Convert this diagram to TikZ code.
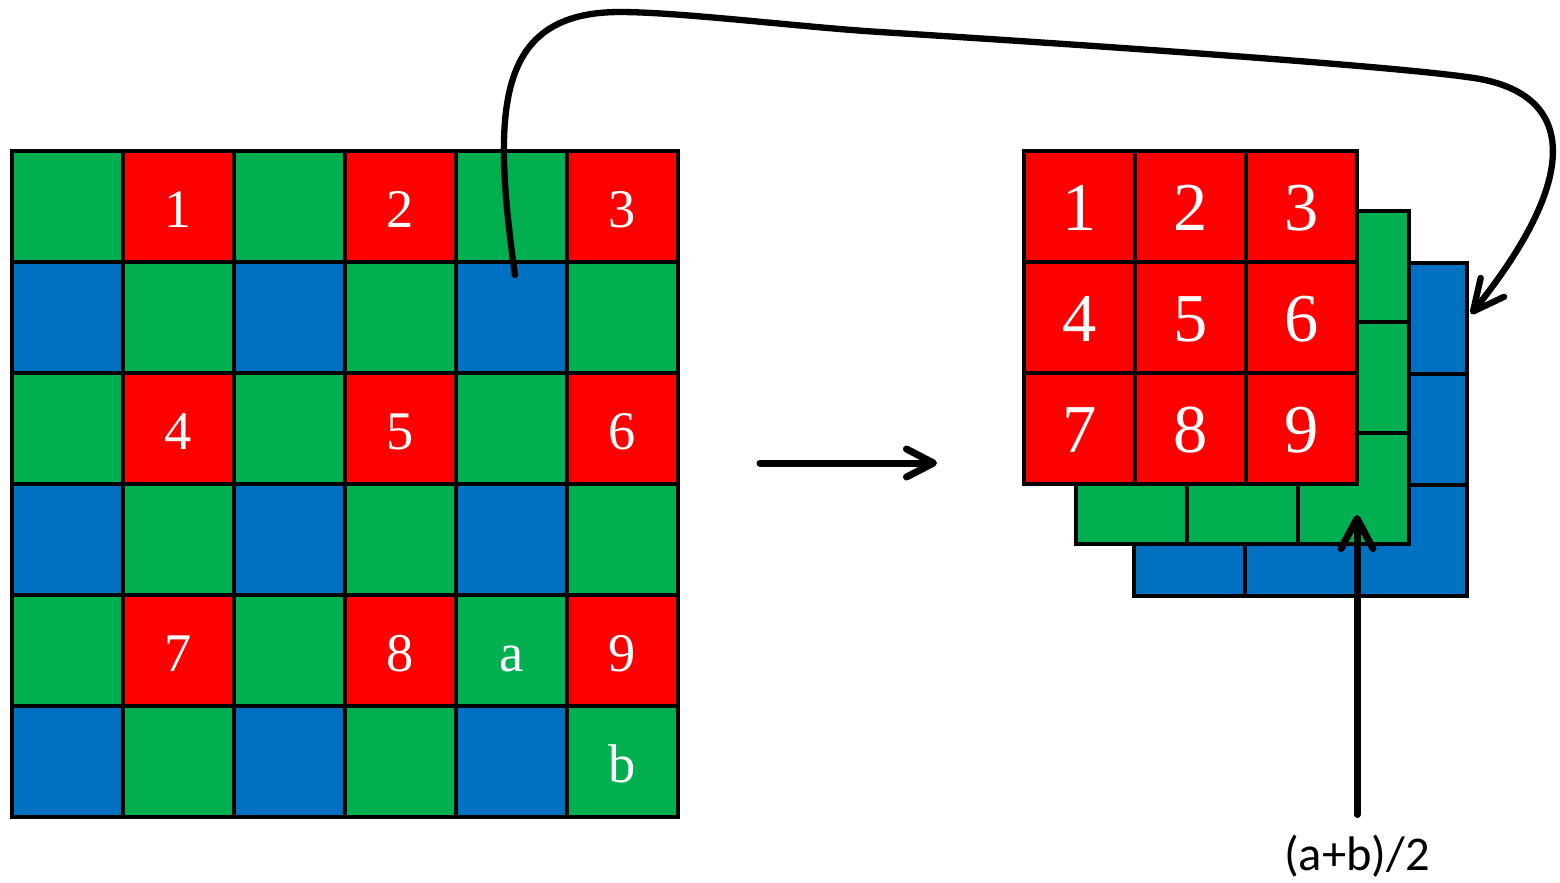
\documentclass[tikz,border=0pt]{standalone}
\usepackage{fontspec}
\setmainfont{Liberation Serif}
\newfontfamily\calibri{Carlito}
\usetikzlibrary{arrows.meta,calc}

\definecolor{cellc0}{HTML}{00B050}
\definecolor{cellc1}{HTML}{FF0000}
\definecolor{cellc2}{HTML}{0070C0}
\definecolor{cellc3}{HTML}{00B050}

\tikzset{
  cell/.style={draw,line width=1.1pt,minimum size=1.11cm,inner sep=0pt,outer sep=0pt},
  lbl/.style={text=white,text height=0.68em,text depth=0pt,yshift=-0.9mm,font=\fontsize{15.5}{18}\selectfont},
  biglbl/.style={text=white,text height=0.68em,text depth=0pt,yshift=-1.2mm,font=\fontsize{19.5}{22}\selectfont},
  flow/.style={line width=2pt,line cap=round,-{Straight Barb[round,length=2.7mm,width=2.8mm]}}
}

\begin{document}
\begin{tikzpicture}[x=1cm,y=-1cm]
\useasboundingbox (0,0) rectangle (15.6,8.82);
% mosaico
\foreach \r in {0,...,5}{
  \foreach \c in {0,...,5}{
    \pgfmathtruncatemacro\k{2*mod(\r,2)+mod(\c,2)}
    \node[cell,fill=cellc\k] (L-\r-\c) at (0.675+1.11*\c,2.065+1.11*\r) {};
  }
}
\foreach \r/\c/\t in {0/1/1,0/3/2,0/5/3,2/1/4,2/3/5,2/5/6,4/1/7,4/3/8,4/5/9,4/4/a,5/5/b}{
  \node[lbl] (t-\t) at (L-\r-\c) {\t};
}
% camadas
\foreach \n/\x/\y/\k in {B/11.34/2.63/2,G/10.76/2.11/0,R/10.24/1.51/1}{
  \foreach \r in {0,1,2}{
    \foreach \c in {0,1,2}{
      \node[cell,fill=cellc\k] (\n-\r-\c) at (\x+0.555+1.11*\c,\y+0.555+1.11*\r) {};
    }
  }
}
\foreach \r in {0,1,2}{
  \foreach \c in {0,1,2}{
    \pgfmathtruncatemacro\t{3*\r+\c+1}
    \node[biglbl] (n-\t) at (R-\r-\c) {\t};
  }
}
% setas
\coordinate (mosaicout) at (7.60,4.63);
\coordinate (stackin) at (9.37,4.63);
\draw[flow] (mosaicout) -- (stackin);
\coordinate (src) at ($(L-1-4)+(0.035,-0.425)$);
\coordinate (dst) at ($(B-0-2.east)+(0.04,-0.045)$);
\draw[flow,line width=1.8pt,-{Straight Barb[round,length=3.1mm,width=3mm]}] (src)
  .. controls (4.92,1.10) and (4.95,0.12) .. (6.20,0.12)
  .. controls (6.80,0.12) and (8.00,0.27) .. (8.80,0.32)
  .. controls (10.80,0.445) and (13.80,0.65) .. (14.67,0.77)
  .. controls (15.75,0.90) and (15.85,1.72) .. (dst);
\node[anchor=base,inner ysep=5.5pt,font=\calibri\fontsize{13.8}{16}\selectfont] (avg) at (13.57,8.70) {(a+b)/2};
\coordinate (avgtip) at (13.57,5.15);
\draw[flow,-{Straight Barb[round,length=3mm,width=3.2mm]}] (avg.north) -- (avgtip);
\end{tikzpicture}
\end{document}
